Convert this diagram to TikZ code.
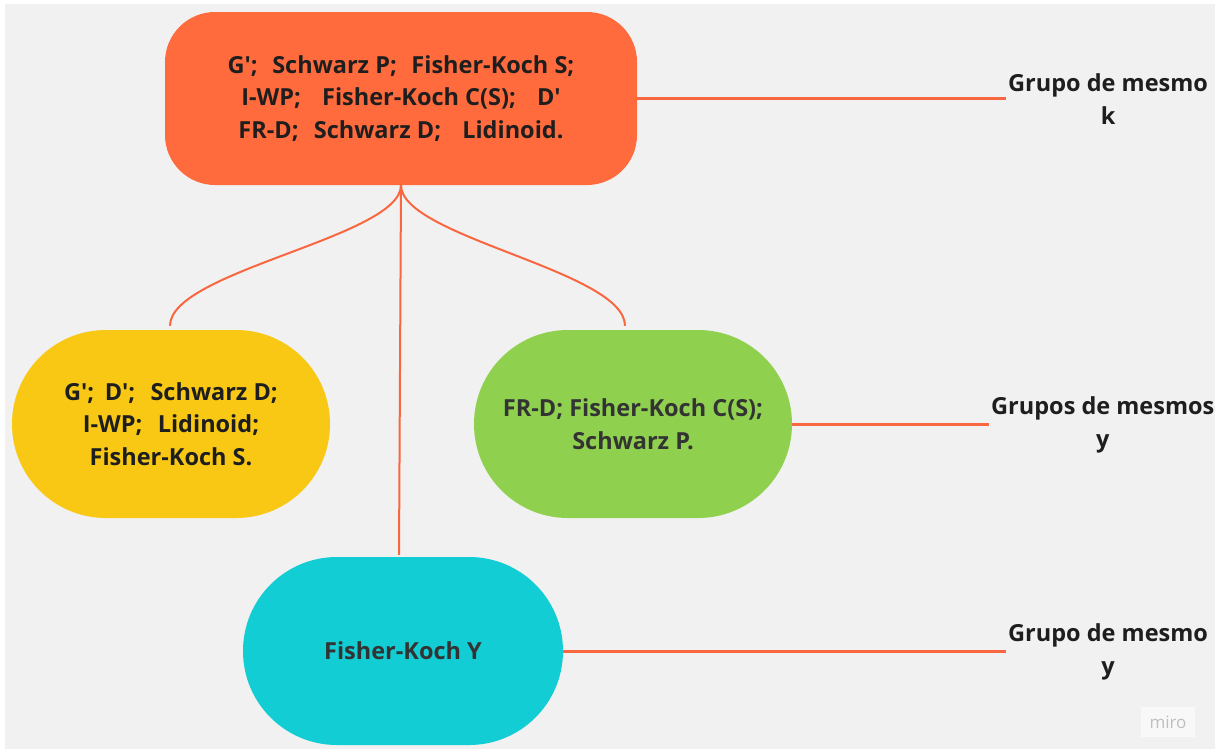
\documentclass[tikz,border=0pt]{standalone}
\usepackage{fontspec}
\newfontfamily\osans{Open Sans}
\definecolor{bg}{HTML}{F1F1F1}
\definecolor{cOrange}{HTML}{FF6B3D}
\definecolor{cYellow}{HTML}{F8C815}
\definecolor{cGreen}{HTML}{8FD14F}
\definecolor{cCyan}{HTML}{12CDD4}
\definecolor{cLine}{HTML}{F96740}
\definecolor{cText}{HTML}{1E1E1E}
\definecolor{cText2}{HTML}{333333}
\tikzset{
  blob/.style={draw=none, align=center, inner sep=0pt, text=cText,
    font=\osans\bfseries\fontsize{23.5}{32.5}\selectfont},
  lab/.style={align=center, inner sep=2pt, text=cText,
    font=\osans\bfseries\fontsize{23.5}{33}\selectfont},
  conn/.style={draw=cLine, line width=2pt},
  hconn/.style={draw=cLine, line width=3pt},
}
\begin{document}
\begin{tikzpicture}[x=1pt,y=-1pt]
\useasboundingbox (0,0) rectangle (1219,753);
\fill[white] (0,0) rectangle (1219,753);
\fill[bg] (5,4) rectangle (1215,749);

\node[blob, fill=cOrange, minimum width=472pt, minimum height=173pt, rounded corners=50pt] (top) at (401,98.5)
  {G';\hspace{0.62em}Schwarz P;\hspace{0.62em}Fisher-Koch S;\\
   I-WP;\hspace{0.9em}Fisher-Koch C(S);\hspace{0.9em}D'\\
   FR-D;\hspace{0.65em}Schwarz D;\hspace{0.9em}Lidinoid.};

\node[blob, fill=cYellow, minimum width=318pt, minimum height=188pt, rounded corners=93.9pt] (yel) at (171,424)
  {G';\hspace{0.45em}D';\hspace{0.65em}Schwarz D;\\
   I-WP;\hspace{0.65em}Lidinoid;\\
   Fisher-Koch S.};

\node[blob, fill=cGreen, text=cText2, minimum width=318pt, minimum height=188pt, rounded corners=93.9pt] (grn) at (633,424)
  {FR-D; Fisher-Koch C(S);\\ Schwarz P.};

\node[blob, fill=cCyan, text=cText2, minimum width=320pt, minimum height=188pt, rounded corners=93.9pt] (cyn) at (403,651)
  {Fisher-Koch Y};

\node[lab, anchor=west] (l1) at (1006,99.5) {Grupo de mesmo\\k};
\node[lab, anchor=west] (l2) at (989,424.5) {Grupos de mesmos\\y};
\node[lab, anchor=west] (l3) at (1006,651.5) {Grupo de mesmo\\y};

\coordinate (ye) at ([xshift=-1pt,yshift=4pt]yel.north);
\coordinate (ge) at ([xshift=-8pt,yshift=4pt]grn.north);
\coordinate (ce) at ([xshift=-4pt,yshift=2pt]cyn.north);

\draw[conn] (top.south) .. controls +(0,52) and +(0,-55) .. (ye);
\draw[conn] (top.south) .. controls +(0,52) and +(0,-55) .. (ge);
\draw[conn] (top.south) -- (ce);

\draw[hconn] (top.east) -- (top.east -| l1.west);
\draw[hconn] (grn.east) -- (grn.east -| l2.west);
\draw[hconn] (cyn.east) -- (cyn.east -| l3.west);

\node[fill=white!50!bg, minimum width=54pt, minimum height=30pt, inner sep=0pt,
  text=black!25, font=\osans\fontsize{17}{19}\selectfont] (miro) at (1168,722) {miro};
\end{tikzpicture}
\end{document}
